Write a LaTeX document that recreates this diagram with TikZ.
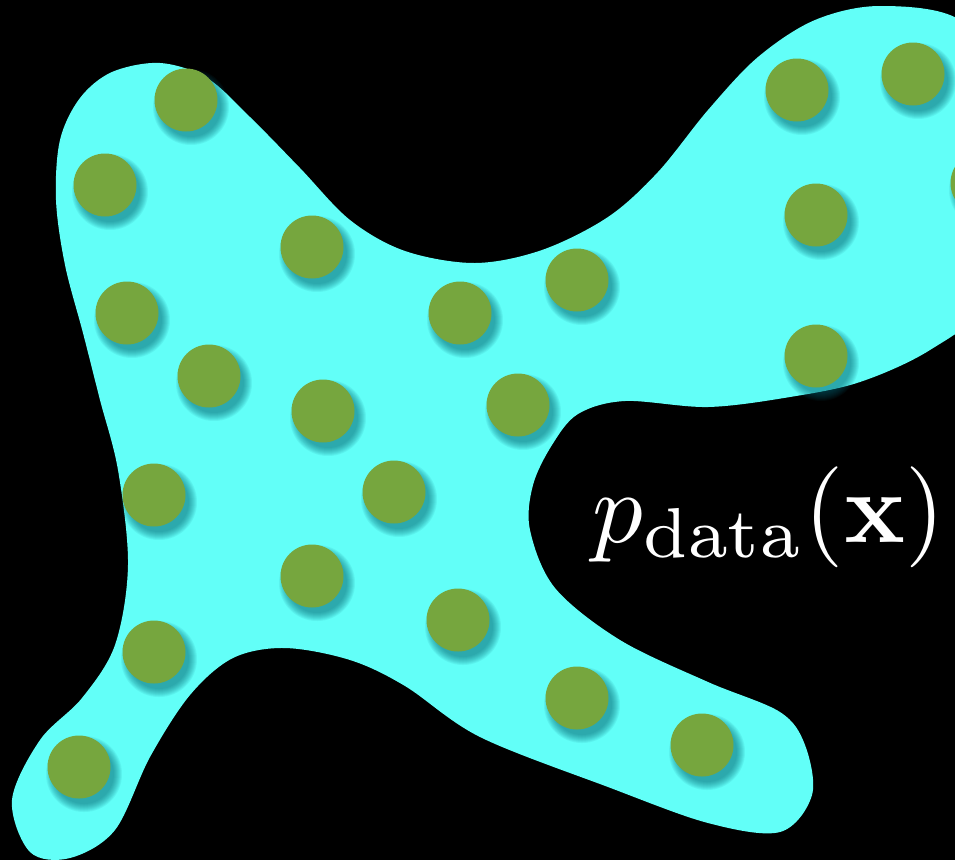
\documentclass[tikz,border=0pt]{standalone}
\usepackage{amsmath}
\usepackage{graphicx}
\definecolor{blobcyan}{RGB}{98,255,248}
\definecolor{dotgreen}{RGB}{118,166,62}
\definecolor{shadowteal}{RGB}{0,95,110}
\tikzset{
  blobfill/.style={fill=blobcyan},
  dotfill/.style={fill=dotgreen},
  shadowring/.style={fill=shadowteal, fill opacity=0.08},
}
\newcommand\gdot[2]{%
  \foreach \k in {0,...,8}{\fill[shadowring] (#1+5,#2+7) circle ({(38-\k)*1pt});}
  \fill[dotfill] (#1,#2) circle (31.5pt);
}
\begin{document}
\begin{tikzpicture}[x=1pt,y=-1pt]
\useasboundingbox (0,0) rectangle (955,860);
\fill[black] (0,0) rectangle (955,860);
\clip (0,0) rectangle (955,860);
\fill[blobfill] plot[smooth cycle, tension=0.55] coordinates {
 (160,63) (207,78) (250,117) (300,168) (350,220) (405,251) (475,263)
 (542,250) (608,217) (658,172) (708,110) (758,57) (815,20) (880,6)
 (960,20) (1010,90) (1015,200) (990,300) (930,350) (860,382) (790,397)
 (708,407) (625,401) (578,414) (552,445) (533,485) (530,530) (555,588)
 (620,640) (708,682) (780,712) (805,745) (812,795) (780,832) (708,823)
 (608,787) (480,737) (405,686) (350,660) (285,648) (233,658) (190,695)
 (150,757) (115,830) (70,858) (30,852) (12,800) (40,740) (82,698)
 (115,645) (128,565) (118,470) (100,400) (83,333) (65,265) (56,200)
 (60,140) (80,98) (112,72)
};
\gdot{186}{100}
\gdot{105}{185}
\gdot{312}{247}
\gdot{127}{313}
\gdot{209}{376}
\gdot{323}{411}
\gdot{460}{313}
\gdot{577}{280}
\gdot{518}{405}
\gdot{797}{90}
\gdot{913}{74}
\gdot{816}{215}
\gdot{816}{356}
\gdot{982}{183}
\gdot{154}{495}
\gdot{394}{492}
\gdot{312}{576}
\gdot{458}{620}
\gdot{154}{652}
\gdot{79}{767}
\gdot{577}{698}
\gdot{702}{745}
\node[text=white, anchor=base west, inner sep=0pt] (label) at (592,542) {\scalebox{10.1}{$p_{\mathrm{data}}(\mathbf{x})$}};
\end{tikzpicture}
\end{document}
